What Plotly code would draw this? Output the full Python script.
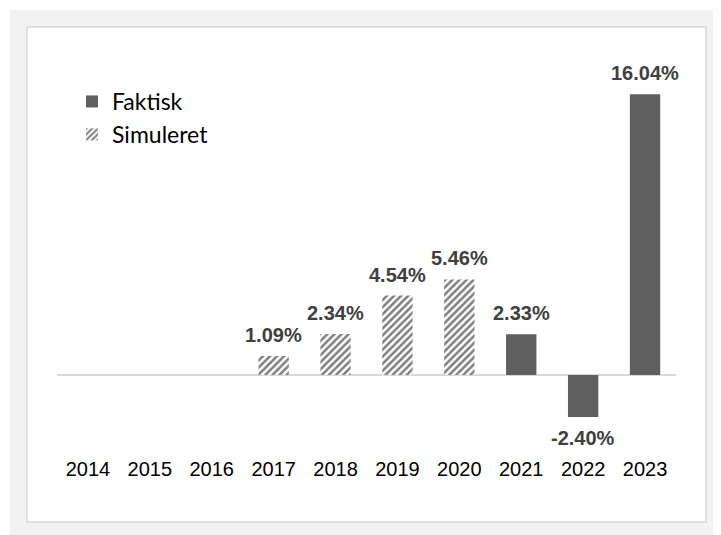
import plotly.graph_objects as go

years = ["2014", "2015", "2016", "2017", "2018", "2019", "2020", "2021", "2022", "2023"]
faktisk = [None, None, None, None, None, None, None, 2.33, -2.40, 16.04]
simuleret = [None, None, None, 1.09, 2.34, 4.54, 5.46, None, None, None]

# page body adds an 8px margin, so the figure is laid out in shifted pixel space
OFF = 8
W, H = 721 - OFF, 535 - OFF
L, R, T, B = 57 - OFF, 45, 60 - OFF, 80
pw, ph = W - L - R, H - T - B

def px_x(p):
    return (p - OFF - L) / pw

def px_y(p):
    return (H - B - (p - OFF)) / ph

fig = go.Figure()
fig.add_trace(go.Bar(
    x=years, y=faktisk, name="Faktisk", width=0.49,
    marker=dict(color="#5f5f5f", line=dict(width=0)),
))
fig.add_trace(go.Bar(
    x=years, y=simuleret, name="Simuleret", width=0.49,
    marker=dict(color="white", line=dict(width=0),
                pattern=dict(shape="/", fgcolor="#000000", bgcolor="white",
                             size=5, solidity=0.5)),
))

ann = []
for series in (faktisk, simuleret):
    for i, v in enumerate(series):
        if v is None:
            continue
        ann.append(dict(
            x=i, y=v, xref="x", yref="y", text="<b>%.2f%%</b>" % v, showarrow=False,
            yshift=21 if v >= 0 else -21, yanchor="middle", xanchor="center",
            font=dict(family="Liberation Sans, Arial", size=20, color="#404040"),
        ))

shapes = [
    dict(type="rect", xref="paper", yref="paper", layer="below",
         x0=px_x(10), x1=px_x(721), y0=px_y(535), y1=px_y(10),
         fillcolor="#f2f2f2", line=dict(width=0)),
    dict(type="rect", xref="paper", yref="paper", layer="below",
         x0=px_x(27), x1=px_x(706), y0=px_y(522), y1=px_y(27),
         fillcolor="white", line=dict(color="#d9d9d9", width=1.5)),
]

fig.update_layout(
    width=W, height=H,
    margin=dict(l=L, r=R, t=T, b=B),
    paper_bgcolor="white", plot_bgcolor="rgba(0,0,0,0)",
    barmode="overlay",
    showlegend=True,
    legend=dict(x=px_x(72), y=px_y(80), xanchor="left", yanchor="top",
                bgcolor="rgba(0,0,0,0)", tracegroupgap=4,
                font=dict(family="Lato, Liberation Sans", size=23, color="#000000")),
    xaxis=dict(type="category", range=[-0.5, 9.5], showgrid=False, showline=False,
               ticks="", tickfont=dict(family="Liberation Sans, Arial", size=20, color="#000000")),
    yaxis=dict(range=[-4.57, 18.0], showgrid=False, showticklabels=False, ticks="",
               zeroline=True, zerolinecolor="#d9d9d9", zerolinewidth=2),
    annotations=ann,
    shapes=shapes,
)

fig.write_html("out.html")
